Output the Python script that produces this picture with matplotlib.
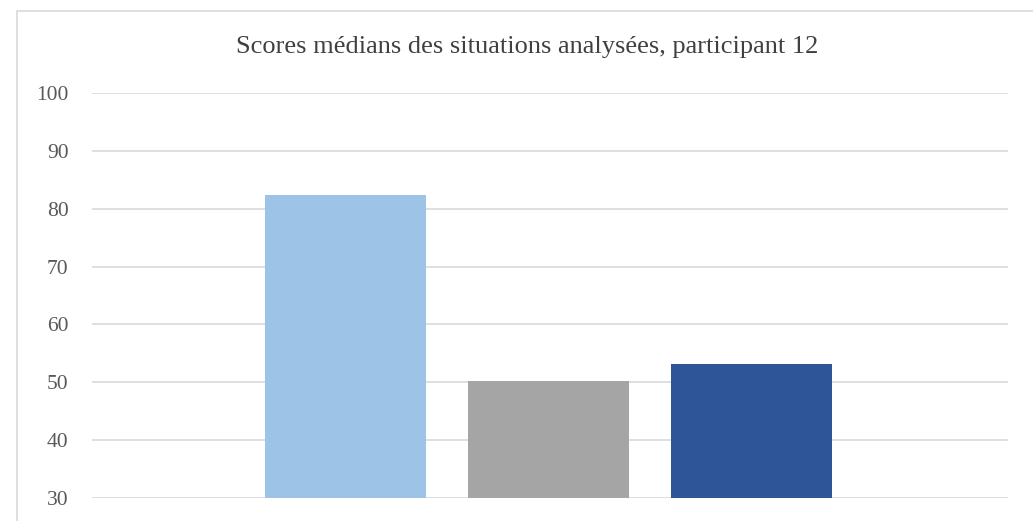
import matplotlib
matplotlib.use("Agg")
import matplotlib.pyplot as plt
from matplotlib.patches import Rectangle

title = "Scores médians des situations analysées, participant 12"
categories = ["Situation 1", "Situation 2", "Situation 3"]
values = [82.4, 50.2, 53.1]
colors = ["#9dc3e6", "#a5a5a5", "#2e5597"]
yticks = [30, 40, 50, 60, 70, 80, 90, 100]

W, H = 1033, 521
fig = plt.figure(figsize=(W / 100, H / 100), dpi=100)
fig.patch.set_facecolor("white")

# chart border
fig.patches.append(Rectangle((17 / W, -0.05), 1.1, 1 - 11 / H + 0.05,
                             transform=fig.transFigure, fill=False,
                             edgecolor="#d9d9d9", linewidth=1.2))

ax = fig.add_axes([92 / W, (H - 498) / H, (1008 - 92) / W, (498 - 93) / H])
x = list(range(len(values)))
ax.bar(x, values, width=0.79, color=colors, zorder=3)
ax.set_xlim(-1.249, 3.264)
ax.set_ylim(30, 100)
ax.set_yticks(yticks)
ax.set_yticklabels([str(v) for v in yticks], family="Liberation Serif",
                   fontsize=15.5, color="#595959")
ax.set_xticks([])
ax.tick_params(axis="y", length=0, pad=17)
ax.grid(axis="y", color="#d9d9d9", linewidth=1.2, zorder=0)
for s in ax.spines.values():
    s.set_visible(False)

fig.text(527 / W, 1 - 47 / H, title, ha="center", va="center",
         family="Liberation Serif", fontsize=19, color="#404040")

fig.savefig("out.png", dpi=100)
